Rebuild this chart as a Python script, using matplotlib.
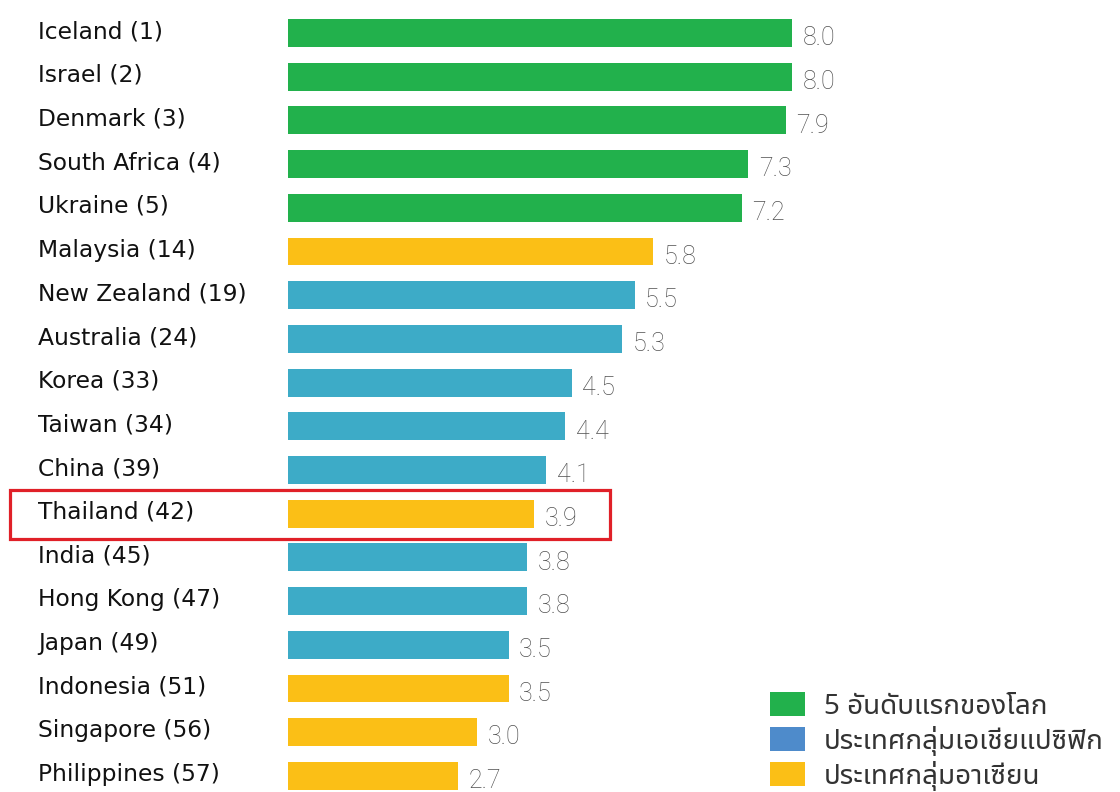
import matplotlib
matplotlib.use('Agg')
import matplotlib.pyplot as plt
from matplotlib.patches import Rectangle, Patch

# ข้อมูล
countries = ['Iceland', 'Israel', 'Denmark', 'South Africa', 'Ukraine', 'Malaysia',
             'New Zealand', 'Australia', 'Korea', 'Taiwan', 'China', 'Thailand',
             'India', 'Hong Kong', 'Japan', 'Indonesia', 'Singapore', 'Philippines']
ranks = [1, 2, 3, 4, 5, 14, 19, 24, 33, 34, 39, 42, 45, 47, 49, 51, 56, 57]
values = [8.0, 8.0, 7.9, 7.3, 7.2, 5.8, 5.5, 5.3, 4.5, 4.4, 4.1, 3.9,
          3.8, 3.8, 3.5, 3.5, 3.0, 2.7]
groups = ['top', 'top', 'top', 'top', 'top', 'asean', 'apac', 'apac', 'apac', 'apac',
          'apac', 'asean', 'apac', 'apac', 'apac', 'asean', 'asean', 'asean']
legend_labels = ['5 อันดับแรกของโลก', 'ประเทศกลุ่มเอเชียแปซิฟิก', 'ประเทศกลุ่มอาเซียน']
highlight = 'Thailand'

bar_colors = {'top': '#22B14C', 'apac': '#3DABC7', 'asean': '#FBBF16'}
legend_colors = ['#22B14C', '#4E8BCB', '#FBBF16']

label_font = ['DejaVu Sans']
thai_font = ['Noto Sans Thai UI', 'Noto Sans Thai', 'Noto Sans', 'DejaVu Sans']

fig = plt.figure(figsize=(11.2, 7.92), dpi=100)
ax = fig.add_axes([0, 0, 1, 1])

px = 63.0  # pixels per unit
row = 43.7
ax.set_xlim(-288 / px, (1120 - 288) / px)
ax.set_ylim((792 - 33) / row, -33 / row)
ax.axis('off')

ypos = list(range(len(countries)))
ax.barh(ypos, values, height=0.64, color=[bar_colors[g] for g in groups], zorder=2)

for y, c, r, v in zip(ypos, countries, ranks, values):
    ax.text((38 - 288) / px, y - 0.03, f'{c} ({r})', ha='left', va='center',
            fontsize=16.8, color='#111111', family=label_font)
    ax.text(v + 0.17, y + 0.12, f'{v:.1f}', ha='left', va='center',
            fontsize=18, color='#505050', family=['Roboto', 'DejaVu Sans'],
            fontweight='light')

# กรอบสีแดงรอบประเทศไทย
i = countries.index(highlight)
box = Rectangle(((10 - 288) / px, i - 0.54), (610 - 10) / px, 1.12,
                fill=False, edgecolor='#E02028', linewidth=2.3, zorder=3)
ax.add_patch(box)

handles = [Patch(facecolor=c, edgecolor='none') for c in legend_colors]
leg = ax.legend(handles, legend_labels, loc='upper left',
                bbox_to_anchor=(770 / 1120, 1 - 692 / 792), frameon=False,
                prop={'family': thai_font, 'size': 20},
                handlelength=1.25, handleheight=0.95, handletextpad=0.7,
                labelspacing=0.18, borderpad=0, borderaxespad=0)
for t in leg.get_texts():
    t.set_color('#333333')

fig.savefig('out.png', dpi=100)
